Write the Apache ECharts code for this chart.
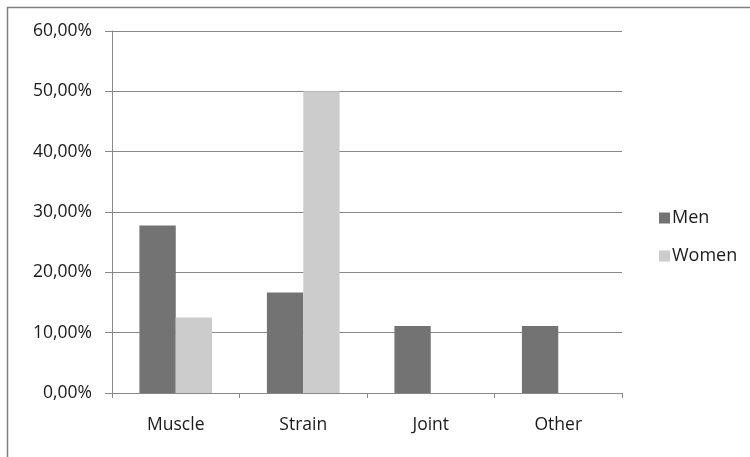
<!DOCTYPE html>
<html><head><meta charset="utf-8">
<script src="https://cdn.jsdelivr.net/npm/echarts@6/dist/echarts.min.js"></script>
<style>html,body{margin:0;padding:0;background:#fff}#c{width:750px;height:457px}</style>
</head><body><div id="c"></div>
<script>
var categories = ['Muscle', 'Strain', 'Joint', 'Other'];
var men = [27.78, 16.67, 11.11, 11.11];
var women = [12.5, 50, 0, 0];
var seriesNames = ['Men', 'Women'];
var font = '"Open Sans", "DejaVu Sans", sans-serif';
var chart = echarts.init(document.getElementById('c'));
chart.setOption({
  animation: false,
  textStyle: {fontFamily: font},
  graphic: [{type: 'rect', shape: {x: 7.5, y: 7.5, width: 800, height: 500}, style: {fill: 'none', stroke: '#808080', lineWidth: 1.5}, z: -1}],
  grid: {left: 112, right: 128, top: 31, bottom: 64},
  legend: {
    orient: 'vertical', left: 654, top: 204, itemWidth: 11, itemHeight: 11, itemGap: 20,
    icon: 'rect', textStyle: {fontSize: 18, color: '#1a1a1a', fontFamily: font, padding: [0,0,0,-3]},
    data: seriesNames
  },
  xAxis: {
    type: 'category', data: categories,
    axisLine: {lineStyle: {color: '#888', width: 1}},
    axisTick: {show: true, length: 5, lineStyle: {color: '#888'}},
    axisLabel: {fontSize: 17.5, color: '#1a1a1a', margin: 23, fontFamily: font}
  },
  yAxis: {
    type: 'value', min: 0, max: 60, interval: 10,
    axisLine: {show: true, lineStyle: {color: '#888'}},
    axisTick: {show: true, length: 7, lineStyle: {color: '#888'}},
    splitLine: {lineStyle: {color: '#888'}},
    axisLabel: {fontSize: 17.5, color: '#1a1a1a', margin: 20, fontFamily: font,
      formatter: function(v){ return v.toFixed(2).replace('.', ',') + '%'; }}
  },
  series: [
    {name: seriesNames[0], type: 'bar', data: men, barGap: '0%', barCategoryGap: '43%', itemStyle: {color: '#737373'}},
    {name: seriesNames[1], type: 'bar', data: women, barGap: '0%', barCategoryGap: '43%', itemStyle: {color: '#cccccc'}}
  ]
});
</script></body></html>
